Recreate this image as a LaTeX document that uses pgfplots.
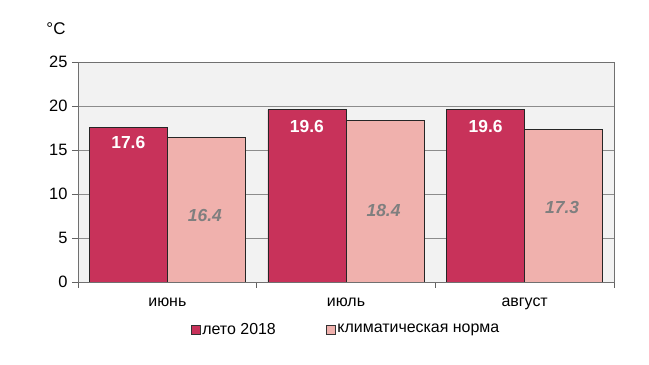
\documentclass[border=0pt]{standalone}
\usepackage{fontspec}
\setmainfont{Liberation Sans}
\usepackage{pgfplots}
\pgfplotsset{compat=1.18}
\definecolor{darkbar}{HTML}{C8325A}
\definecolor{lightbar}{HTML}{F0B1AD}
\definecolor{plotbg}{HTML}{F2F2F2}
\definecolor{gridc}{HTML}{8C8C8C}
\definecolor{lblgray}{HTML}{7F7F7F}
\begin{document}
\begin{tikzpicture}
\useasboundingbox (-78bp,-83bp) rectangle (571bp,282bp);
\begin{axis}[
  name=ax,
  at={(0,0)}, anchor=south west,
  scale only axis, width=536bp, height=220bp,
  xmin=0, xmax=3, ymin=0, ymax=25,
  ytick={0,5,10,15,20,25},
  xtick={0,1,2,3},
  xticklabels={},
  extra x ticks={0.5,1.5,2.5},
  extra x tick labels={июнь,июль,август},
  extra x tick style={major tick length=0pt, xticklabel style={yshift=-12bp}},
  ytick pos=left, xtick pos=bottom,
  tick style={draw=gridc!70!black, line width=0.8pt},
  tick align=outside,
  major tick length=6bp,
  ymajorgrids, grid style={draw=gridc, line width=0.8pt},
  axis background/.style={fill=plotbg},
  axis line style={draw=gridc!80!black, line width=0.8pt},
  /pgf/number format/assume math mode=true,
  yticklabel style={font=\fontsize{16.5}{19}\selectfont, xshift=-1bp},
  xticklabel style={font=\fontsize{16}{19}\selectfont},
  legend style={draw=none, fill=none, at={(0.5,-0.215)}, anchor=center,
    font=\fontsize{16}{19}\selectfont, legend columns=2,
    /tikz/every even column/.append style={column sep=48bp}},
  legend image code/.code={\draw[#1, draw=black!80, line width=0.6pt] (0bp,-4.5bp) rectangle (9bp,4.5bp);},
  legend cell align=left,
]
\addplot[ybar, bar width=0.437, bar shift=-0.2185, fill=darkbar, draw=black!85, line width=0.8pt]
  coordinates {(0.5,17.6) (1.5,19.6) (2.5,19.6)};
\addlegendentry{лето 2018}
\addplot[ybar, bar width=0.437, bar shift=0.2185, fill=lightbar, draw=black!85, line width=0.8pt]
  coordinates {(0.5,16.4) (1.5,18.4) (2.5,17.3)};
\addlegendentry{климатическая норма}
\addplot[draw=none, forget plot, nodes near coords, point meta=explicit symbolic,
  every node near coord/.style={anchor=center, text=white, font=\fontsize{17.5}{20}\selectfont\bfseries}]
  coordinates {(0.2815,15.8)[17.6] (1.2815,17.7)[19.6] (2.2815,17.7)[19.6]};
\addplot[draw=none, forget plot, nodes near coords, point meta=explicit symbolic,
  every node near coord/.style={anchor=center, text=lblgray, font=\fontsize{17.5}{20}\selectfont\bfseries\itshape}]
  coordinates {(0.71,7.6)[16.4] (1.71,8.1)[18.4] (2.71,8.5)[17.3]};
\end{axis}
\node[font=\fontsize{17}{20}\selectfont, xshift=-22bp, yshift=33bp] at (ax.north west) {°C};
\end{tikzpicture}
\end{document}
